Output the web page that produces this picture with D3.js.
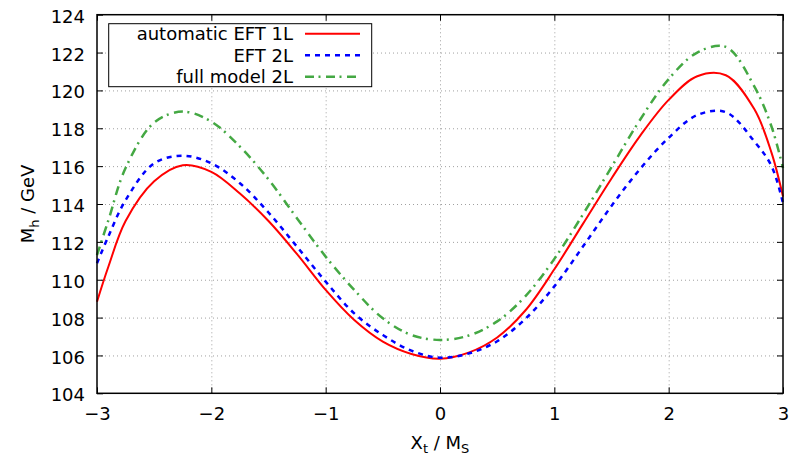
<!DOCTYPE html>
<html>
<head>
<meta charset="utf-8">
<script src="https://cdn.jsdelivr.net/npm/d3@7"></script>
<style>
  body { margin: 0; background: #fff; }
  svg { font-family: "DejaVu Sans", sans-serif; }
  .grid line { stroke: #a0a0a0; stroke-dasharray: 1,3; }
  .grid path { display: none; }
  .axis path { display: none; }
  .axis line { stroke: #000; }
  .axis text { font-size: 18px; fill: #000; font-family: "DejaVu Sans", sans-serif; }
</style>
</head>
<body>
<svg id="chart" width="792" height="458"></svg>
<script>
// x values (X_t / M_S) and Higgs masses
const xt = [-3, -2.9, -2.75, -2.5, -2.25, -2, -1.75, -1.5, -1.25, -1, -0.75, -0.5, -0.25, 0,
            0.25, 0.5, 0.75, 1, 1.25, 1.5, 1.75, 2, 2.25, 2.5, 2.75, 2.9, 3];
const eft1L = [108.84, 110.7, 113.1, 115.2, 116.05, 115.7, 114.55, 113.1, 111.35, 109.46, 107.87, 106.73, 106.08, 105.83,
               106.15, 106.95, 108.4, 110.55, 112.95, 115.35, 117.6, 119.5, 120.75, 120.8, 119.0, 116.7, 114.39];
const eft2L = [110.87, 112.3, 114.2, 116.15, 116.55, 116.15, 115.1, 113.55, 111.74, 109.9, 108.22, 107.08, 106.25, 105.88,
               106.1, 106.75, 107.95, 109.65, 111.75, 113.9, 115.85, 117.5, 118.7, 118.85, 117.3, 116.0, 114.04];
const full2L = [111.3, 113.15, 115.9, 118.3, 118.88, 118.35, 117.03, 115.3, 113.24, 111.22, 109.46, 107.96, 107.08, 106.82,
                107.05, 107.8, 109.15, 111.1, 113.45, 115.95, 118.45, 120.6, 122.0, 122.3, 120.2, 118.08, 115.9];

const xTicks = [-3, -2, -1, 0, 1, 2, 3];
const yTicks = [104, 106, 108, 110, 112, 114, 116, 118, 120, 122, 124];

const series = [
  {label: 'automatic EFT 1L', values: eft1L, color: '#ff0000', dash: null, width: 2},
  {label: 'EFT 2L', values: eft2L, color: '#0000ff', dash: '5,5', width: 2.5},
  {label: 'full model 2L', values: full2L, color: '#44a843', dash: '9,4.5,2,5.5', width: 2.5}
];

const svg = d3.select('#chart');
const box = {left: 97, right: 783, top: 14.7, bottom: 393.3};
const width = box.right - box.left, height = box.bottom - box.top;

const x = d3.scaleLinear().domain([-3, 3]).range([box.left, box.right]);
const y = d3.scaleLinear().domain([104, 124]).range([box.bottom, box.top]);

// grid
svg.append('g').attr('class', 'grid')
    .attr('transform', `translate(0,${box.bottom})`)
    .call(d3.axisBottom(x).tickValues(xTicks.slice(1, -1)).tickSize(-height).tickFormat(''));
svg.append('g').attr('class', 'grid')
    .attr('transform', `translate(${box.left},0)`)
    .call(d3.axisLeft(y).tickValues(yTicks.slice(1, -1)).tickSize(-width).tickFormat(''));

// curves
const line = d3.line().x((d, i) => x(xt[i])).y(d => y(d)).curve(d3.curveCatmullRom);
const plot = svg.append('g');
series.forEach(s => {
  plot.append('path')
      .datum(s.values)
      .attr('d', line)
      .attr('fill', 'none')
      .attr('stroke', s.color)
      .attr('stroke-width', s.width)
      .attr('stroke-dasharray', s.dash);
});

// axes with inward ticks on all four sides
svg.append('g').attr('class', 'axis')
    .attr('transform', `translate(0,${box.bottom})`)
    .call(d3.axisBottom(x).tickValues(xTicks).tickSize(-6).tickPadding(14).tickFormat(d3.format('d')));
svg.append('g').attr('class', 'axis')
    .attr('transform', `translate(0,${box.top})`)
    .call(d3.axisTop(x).tickValues(xTicks).tickSize(-6).tickFormat(''));
svg.append('g').attr('class', 'axis')
    .attr('transform', `translate(${box.left},0)`)
    .call(d3.axisLeft(y).tickValues(yTicks).tickSize(-6).tickPadding(12))
  .selectAll('text').attr('dy', '0.42em');
svg.append('g').attr('class', 'axis')
    .attr('transform', `translate(${box.right},0)`)
    .call(d3.axisRight(y).tickValues(yTicks).tickSize(-6).tickFormat(''));

// frame
svg.append('rect')
    .attr('x', box.left).attr('y', box.top)
    .attr('width', width).attr('height', height)
    .attr('fill', 'none').attr('stroke', '#000').attr('stroke-width', 1.5);

// axis titles
const xTitle = svg.append('text')
    .attr('x', (box.left + box.right) / 2).attr('y', 449)
    .attr('text-anchor', 'middle').attr('font-size', 18);
xTitle.append('tspan').text('X');
xTitle.append('tspan').attr('font-size', 13).attr('dy', 4).text('t');
xTitle.append('tspan').attr('dy', -4).text(' / M');
xTitle.append('tspan').attr('font-size', 13).attr('dy', 4).text('S');

const yTitle = svg.append('text')
    .attr('transform', `translate(34,${(box.top + box.bottom) / 2}) rotate(-90)`)
    .attr('text-anchor', 'middle').attr('font-size', 18);
yTitle.append('tspan').text('M');
yTitle.append('tspan').attr('font-size', 13).attr('dy', 5).text('h');
yTitle.append('tspan').attr('dy', -5).text(' / GeV');

// legend
const legend = svg.append('g');
legend.append('rect')
    .attr('x', 108.7).attr('y', 23.7).attr('width', 263).attr('height', 63)
    .attr('fill', '#fff').attr('stroke', '#000').attr('stroke-width', 1);
series.forEach((s, i) => {
  const ly = 33.7 + i * 21.5;
  legend.append('text')
      .attr('x', 293).attr('y', ly).attr('dy', '0.36em')
      .attr('text-anchor', 'end').attr('font-size', 18)
      .text(s.label);
  legend.append('line')
      .attr('x1', 305).attr('x2', 360).attr('y1', ly).attr('y2', ly)
      .attr('stroke', s.color).attr('stroke-width', s.width)
      .attr('stroke-dasharray', s.dash);
});
</script>
</body>
</html>
